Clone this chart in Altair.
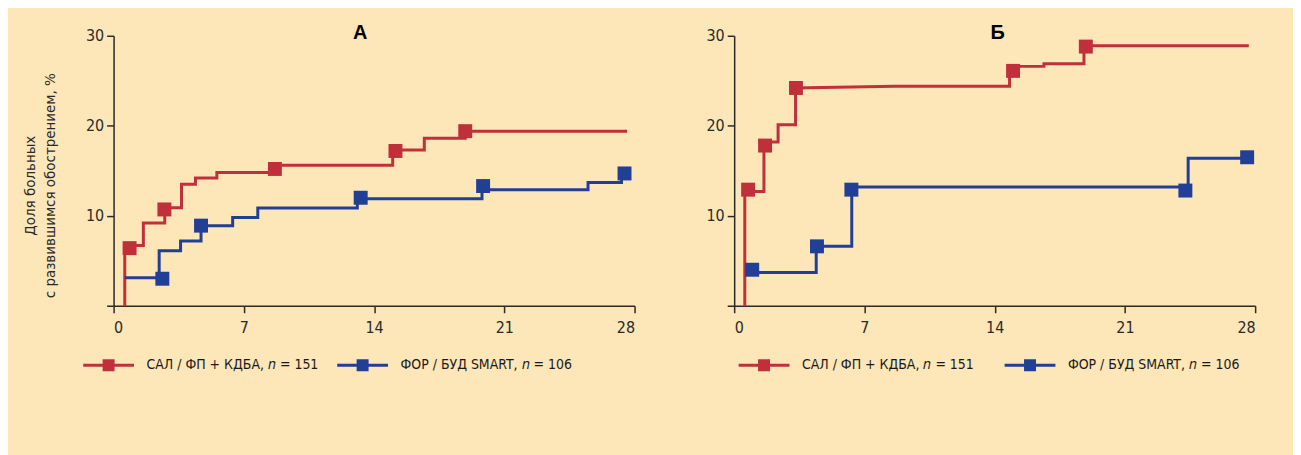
import altair as alt
import pandas as pd

# ---------------- data ----------------
LABEL_RED = "САЛ / ФП + КДБА, 𝑛 = 151"
LABEL_BLUE = "ФОР / БУД SMART, 𝑛 = 106"
SERIES = [LABEL_RED, LABEL_BLUE]
COLORS = ["#C0303B", "#223F97"]

X_TICKS = [0, 7, 14, 21, 28]
Y_TICKS = [0, 10, 20, 30]

# Panel А – step lines (vertices)
A_RED_DAY = [0.6, 0.6, 1.6, 1.6, 2.75, 2.75, 3.65, 3.65, 4.4, 4.4, 5.55, 5.55, 8.7, 8.7, 15.0, 15.0, 16.7, 16.7, 18.9, 18.9, 27.6]
A_RED_PCT = [0.0, 6.7, 6.7, 9.2, 9.2, 10.9, 10.9, 13.5, 13.5, 14.2, 14.2, 14.8, 14.8, 15.6, 15.6, 17.3, 17.3, 18.6, 18.6, 19.4, 19.4]
A_RED_MK_DAY = [0.86, 2.73, 8.67, 15.15, 18.9]
A_RED_MK_PCT = [6.4, 10.7, 15.2, 17.2, 19.4]

A_BLUE_DAY = [0.6, 2.45, 2.45, 3.6, 3.6, 4.7, 4.7, 6.4, 6.4, 7.75, 7.75, 13.1, 13.1, 19.8, 19.8, 25.5, 25.5, 27.3, 27.3]
A_BLUE_PCT = [3.1, 3.1, 6.1, 6.1, 7.2, 7.2, 8.9, 8.9, 9.8, 9.8, 10.85, 10.85, 11.9, 11.9, 12.9, 12.9, 13.7, 13.7, 14.6]
A_BLUE_MK_DAY = [2.62, 4.7, 13.28, 19.86, 27.46]
A_BLUE_MK_PCT = [3.0, 8.9, 12.0, 13.3, 14.7]

# Panel Б – step lines (vertices)
B_RED_DAY = [0.57, 0.57, 1.6, 1.6, 2.36, 2.36, 3.3, 3.3, 8.6, 14.8, 14.8, 16.65, 16.65, 18.8, 18.8, 27.66]
B_RED_PCT = [0.0, 12.7, 12.7, 18.2, 18.2, 20.1, 20.1, 24.2, 24.4, 24.4, 26.6, 26.6, 26.9, 26.9, 28.9, 28.9]
B_RED_MK_DAY = [0.75, 1.66, 3.32, 14.99, 18.9]
B_RED_MK_PCT = [12.9, 17.8, 24.2, 26.1, 28.8]

B_BLUE_DAY = [0.96, 4.41, 4.41, 6.32, 6.32, 24.4, 24.4, 27.6]
B_BLUE_PCT = [3.7, 3.7, 6.6, 6.6, 13.2, 13.2, 16.4, 16.4]
B_BLUE_MK_DAY = [0.97, 4.45, 6.3, 24.25, 27.57]
B_BLUE_MK_PCT = [4.0, 6.6, 12.9, 12.8, 16.5]

PANEL_TITLES = ["А", "Б"]
Y_TITLE = ["Доля больных", "с развившимся обострением, %"]

# ---------------- styling ----------------
FONT = "DejaVu Sans Condensed, Liberation Sans Narrow, sans-serif"
BG = "#FDE6B8"
INK = "#2a2a2a"
W, H = 523, 271


def line_df(red_d, red_p, blue_d, blue_p):
    rows = []
    for lab, ds, ps in [(LABEL_RED, red_d, red_p), (LABEL_BLUE, blue_d, blue_p)]:
        for i, (d, p) in enumerate(zip(ds, ps)):
            rows.append({"day": d, "pct": p, "series": lab, "idx": i})
    return pd.DataFrame(rows)


def mk_df(red_d, red_p, blue_d, blue_p):
    rows = []
    for lab, ds, ps in [(LABEL_RED, red_d, red_p), (LABEL_BLUE, blue_d, blue_p)]:
        for d, p in zip(ds, ps):
            rows.append({"day": d, "pct": p, "series": lab})
    return pd.DataFrame(rows)


SYMBOL_PATH = ("M-1,0H1"
               "M-0.1765,-0.1765H0.1765V0.1765H-0.1765Z"
               "M-0.06,-0.06H0.06V0.06H-0.06Z")


def panel(ldf, mdf, title, title_dx, y_title, legend_x, col_pad):
    xs = alt.Scale(domain=[0, 28], nice=False)
    ys = alt.Scale(domain=[0, 30], nice=False)
    cs = alt.Scale(domain=SERIES, range=COLORS)
    x_axis = alt.Axis(values=X_TICKS, title=None, labelPadding=7)
    y_axis = alt.Axis(values=Y_TICKS, labelExpr="datum.value == 0 ? '' : datum.label",
                      title=y_title, labelPadding=3,
                      titleX=-91, titleY=150, titleAngle=-90,
                      titleBaseline="top", titleAlign="center",
                      titleFont=FONT, titleFontSize=15, titleFontWeight="normal",
                      titleColor=INK, titleLineHeight=20)
    line = alt.Chart(ldf).mark_line(strokeWidth=3, interpolate="linear").encode(
        x=alt.X("day:Q", scale=xs, axis=x_axis),
        y=alt.Y("pct:Q", scale=ys, axis=y_axis),
        color=alt.Color("series:N", scale=cs, legend=alt.Legend(
            title=None, orient="none", legendX=legend_x, legendY=303.5,
            direction="horizontal", symbolType=SYMBOL_PATH, symbolSize=2601,
            symbolStrokeWidth=3, labelOffset=11, columnPadding=col_pad, padding=0,
            labelFont=FONT, labelFontSize=14, labelColor="#1a1a1a",
            labelLimit=400)),
        order="idx:Q",
    )
    pts = alt.Chart(mdf).mark_point(shape="square", filled=True, size=196, opacity=1).encode(
        x=alt.X("day:Q", scale=xs),
        y=alt.Y("pct:Q", scale=ys),
        color=alt.Color("series:N", scale=cs, legend=None),
    )
    return alt.layer(line, pts).properties(
        width=W, height=H,
        title=alt.TitleParams(title, font="Liberation Sans", fontSize=20, fontWeight="bold",
                              color="#000000", anchor="middle", frame="group",
                              baseline="alphabetic", offset=-31, dx=title_dx),
    )


pa = panel(line_df(A_RED_DAY, A_RED_PCT, A_BLUE_DAY, A_BLUE_PCT),
           mk_df(A_RED_MK_DAY, A_RED_MK_PCT, A_BLUE_MK_DAY, A_BLUE_MK_PCT),
           PANEL_TITLES[0], -14, Y_TITLE, -32, 12)
pb = panel(line_df(B_RED_DAY, B_RED_PCT, B_BLUE_DAY, B_BLUE_PCT),
           mk_df(B_RED_MK_DAY, B_RED_MK_PCT, B_BLUE_MK_DAY, B_BLUE_MK_PCT),
           PANEL_TITLES[1], 3, None, 3, 24)

chart = alt.hconcat(pa, pb, spacing=100, bounds="flush").resolve_scale(
    color="independent").resolve_legend(color="independent").properties(
    padding={"left": 15, "right": 37, "top": 14, "bottom": 89},
    background=BG,
).configure_view(stroke=None).configure_axis(
    grid=False, domainColor=INK, domainWidth=1.5, tickColor=INK, tickWidth=1.5,
    tickSize=7, labelFont=FONT, labelFontSize=16, labelColor=INK,
)

chart.save("out.html", embed_options={"renderer": "svg", "actions": False})
